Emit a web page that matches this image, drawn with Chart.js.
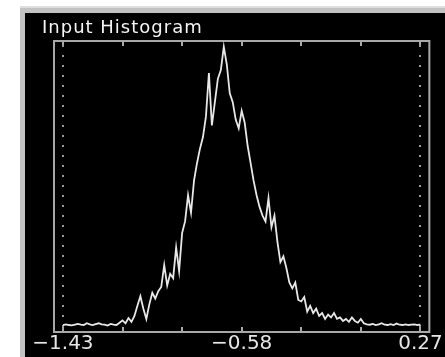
<!DOCTYPE html>
<html><head><meta charset="utf-8">
<script src="https://cdn.jsdelivr.net/npm/chart.js@4.4.1/dist/chart.umd.min.js"></script>
<style>html,body{margin:0;padding:0;background:#fff;overflow:hidden}#wrap{width:445px;height:357px}</style>
</head><body><div id="wrap"><canvas id="c" width="445" height="357"></canvas></div>
<script>
const titleText = 'Input Histogram';
const tickValues = [0, 20, 40, 60, 80, 100, 120];
const tickLabels = ['\u22121.43', '', '', '\u22120.58', '', '', '0.27'];
const counts = [
  2.4, 2.6, 2.4, 2.3, 2.5, 2.8, 2.5, 2.4, 3.0, 2.6,
  2.4, 2.7, 3.0, 2.6, 2.5, 2.2, 2.8, 2.5, 2.4, 3.2,
  4.0, 3.0, 4.8, 3.5, 5.5, 9.0, 12.3, 8.0, 4.5, 9.5,
  13.5, 11.5, 14.0, 15.5, 23.0, 16.0, 20.0, 18.5, 29.0, 21.0,
  34.0, 38.0, 47.0, 41.0, 52.0, 58.0, 63.0, 67.0, 74.0, 89.0,
  71.0, 79.0, 87.0, 90.0, 98.0, 92.0, 82.0, 79.0, 73.0, 70.0,
  76.0, 72.0, 64.0, 58.0, 52.0, 47.0, 43.0, 40.0, 38.0, 46.0,
  36.0, 40.0, 31.0, 24.0, 26.0, 22.0, 17.0, 15.0, 17.0, 11.0,
  10.5, 12.0, 7.0, 9.0, 6.5, 8.0, 5.5, 6.5, 4.5, 6.0,
  5.0, 6.5, 4.5, 5.0, 3.8, 4.5, 3.5, 5.0, 3.8, 3.2,
  4.5, 3.0, 2.6, 2.5, 2.8, 2.4, 2.6, 3.0, 2.5, 2.4,
  2.7, 2.4, 2.9, 2.5, 2.4, 2.6, 2.4, 2.5, 2.6, 2.4,
  2.5
];

const panelPlugin = {
  id: 'panel',
  beforeDraw(chart) {
    const ctx = chart.ctx;
    ctx.save();
    ctx.fillStyle = '#ffffff';
    ctx.fillRect(0, 0, chart.width, chart.height);
    ctx.fillStyle = '#c2c2c2';
    ctx.fillRect(20, 6, chart.width - 20, chart.height - 6);
    ctx.fillStyle = '#dedede';
    ctx.fillRect(20, 6, chart.width - 20, 2);
    ctx.fillStyle = '#000000';
    ctx.fillRect(25, 13, chart.width - 25, chart.height - 13);
    ctx.restore();
  },
  beforeDatasetsDraw(chart) {
    const ctx = chart.ctx, a = chart.chartArea, xs = chart.scales.x;
    ctx.save();
    ctx.strokeStyle = '#a8a8a8';
    ctx.lineWidth = 2;
    ctx.strokeRect(a.left, a.top, a.right - a.left, a.bottom - a.top);
    tickValues.forEach(v => {
      const px = Math.round(xs.getPixelForValue(v));
      ctx.beginPath();
      ctx.moveTo(px, a.top); ctx.lineTo(px, a.top + 5);
      ctx.moveTo(px, a.bottom); ctx.lineTo(px, a.bottom - 5);
      ctx.stroke();
    });
    ctx.setLineDash([2, 8]);
    ctx.strokeStyle = '#9a9a9a';
    [tickValues[0], tickValues[tickValues.length - 1]].forEach(v => {
      const px = Math.round(xs.getPixelForValue(v));
      ctx.beginPath();
      ctx.moveTo(px, a.top + 4); ctx.lineTo(px, a.bottom - 2);
      ctx.stroke();
    });
    ctx.restore();
  },
  afterDraw(chart) {
    const ctx = chart.ctx;
    ctx.save();
    ctx.font = '18px "DejaVu Sans"';
    try { ctx.letterSpacing = '1px'; } catch (e) {}
    ctx.fillStyle = '#f4f4f4';
    ctx.textBaseline = 'alphabetic';
    ctx.textAlign = 'left';
    ctx.fillText(titleText, 42, 33);
    ctx.restore();
  }
};

new Chart(document.getElementById('c'), {
  type: 'line',
  data: {
    datasets: [{
      data: counts.map((v, i) => ({ x: i, y: v })),
      borderColor: '#e8e8e8',
      borderWidth: 1.8,
      pointRadius: 0,
      tension: 0,
      fill: false
    }]
  },
  options: {
    responsive: false,
    animation: false,
    devicePixelRatio: 1,
    layout: { padding: { left: 54, top: 41, right: 13, bottom: 1 } },
    plugins: { legend: { display: false }, tooltip: { enabled: false }, title: { display: false } },
    scales: {
      x: {
        type: 'linear',
        min: -3,
        max: 123,
        afterBuildTicks: s => { s.ticks = tickValues.map(v => ({ value: v })); },
        grid: { display: false, drawTicks: false },
        border: { display: false },
        ticks: {
          autoSkip: false,
          maxRotation: 0,
          padding: 2,
          color: '#e6e6e6',
          font: { family: 'DejaVu Sans', size: 20, lineHeight: 1 },
          callback: (value) => tickLabels[tickValues.indexOf(value)] ?? ''
        }
      },
      y: { display: false, min: 0, max: 100 }
    }
  },
  plugins: [panelPlugin]
});
</script>
</body></html>
